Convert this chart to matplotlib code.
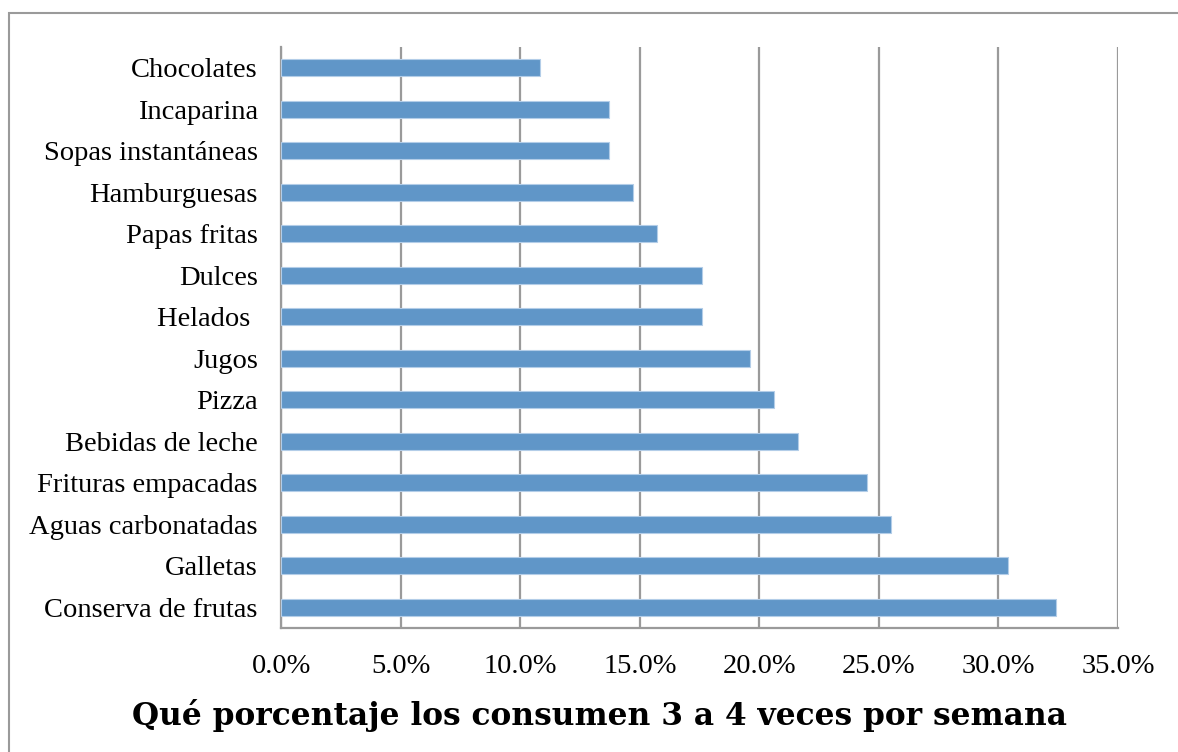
import matplotlib
matplotlib.use("Agg")
import matplotlib.pyplot as plt
from matplotlib.patches import Rectangle
from matplotlib.ticker import FuncFormatter, MultipleLocator

categories = [
    "Conserva de frutas", "Galletas", "Aguas carbonatadas", "Frituras empacadas",
    "Bebidas de leche", "Pizza", "Jugos", "Helados ", "Dulces", "Papas fritas",
    "Hamburguesas", "Sopas instantáneas", "Incaparina", "Chocolates",
]
percentages = [32.4, 30.4, 25.5, 24.5, 21.6, 20.6, 19.6, 17.6, 17.6, 15.7,
               14.7, 13.7, 13.7, 10.8]
x_label = "Qué porcentaje los consumen 3 a 4 veces por semana"

W, H = 1178, 752
fig = plt.figure(figsize=(W / 100, H / 100), dpi=100)
fig.patch.set_facecolor("white")

plt.rcParams["font.family"] = ["Liberation Serif", "DejaVu Serif"]

# outer chart frame
fig.patches.append(Rectangle((9 / W, -0.05), 1.2, (H - 13) / H + 0.05,
                             transform=fig.transFigure, fill=False,
                             edgecolor="#9a9a9a", linewidth=1.5))

left, right, top, bottom = 281.4, 1118, 47, 628
ax = fig.add_axes([left / W, (H - bottom) / H, (right - left) / W, (bottom - top) / H])

y = range(len(categories))
ax.barh(y, [p / 100 for p in percentages], height=0.40, color="#6096C8",
        edgecolor="#B3CDE8", linewidth=0.8, zorder=3)

ax.set_xlim(0, 0.35)
ax.set_ylim(-0.5, len(categories) - 0.5)
ax.xaxis.set_major_locator(MultipleLocator(0.05))
ax.xaxis.set_major_formatter(FuncFormatter(lambda v, _: f"{v * 100:.1f}%"))
ax.set_yticks(list(y))
ax.set_yticklabels(categories)

ax.grid(axis="x", color="#9a9a9a", linewidth=1.6, zorder=1)
for s in ("top", "right"):
    ax.spines[s].set_visible(False)
for s in ("left", "bottom"):
    ax.spines[s].set_color("#9a9a9a")
    ax.spines[s].set_linewidth(1.6)

ax.tick_params(axis="y", length=0, pad=17, labelsize=20.5, labelcolor="black")
ax.tick_params(axis="x", length=0, pad=19, labelsize=20.5, labelcolor="black")

fig.text(600 / W, 1 - 715 / H, x_label, ha="center", va="center",
         fontsize=22.5, fontweight="bold", family=["DejaVu Serif"])

fig.savefig("out.png", dpi=100, facecolor="white")
